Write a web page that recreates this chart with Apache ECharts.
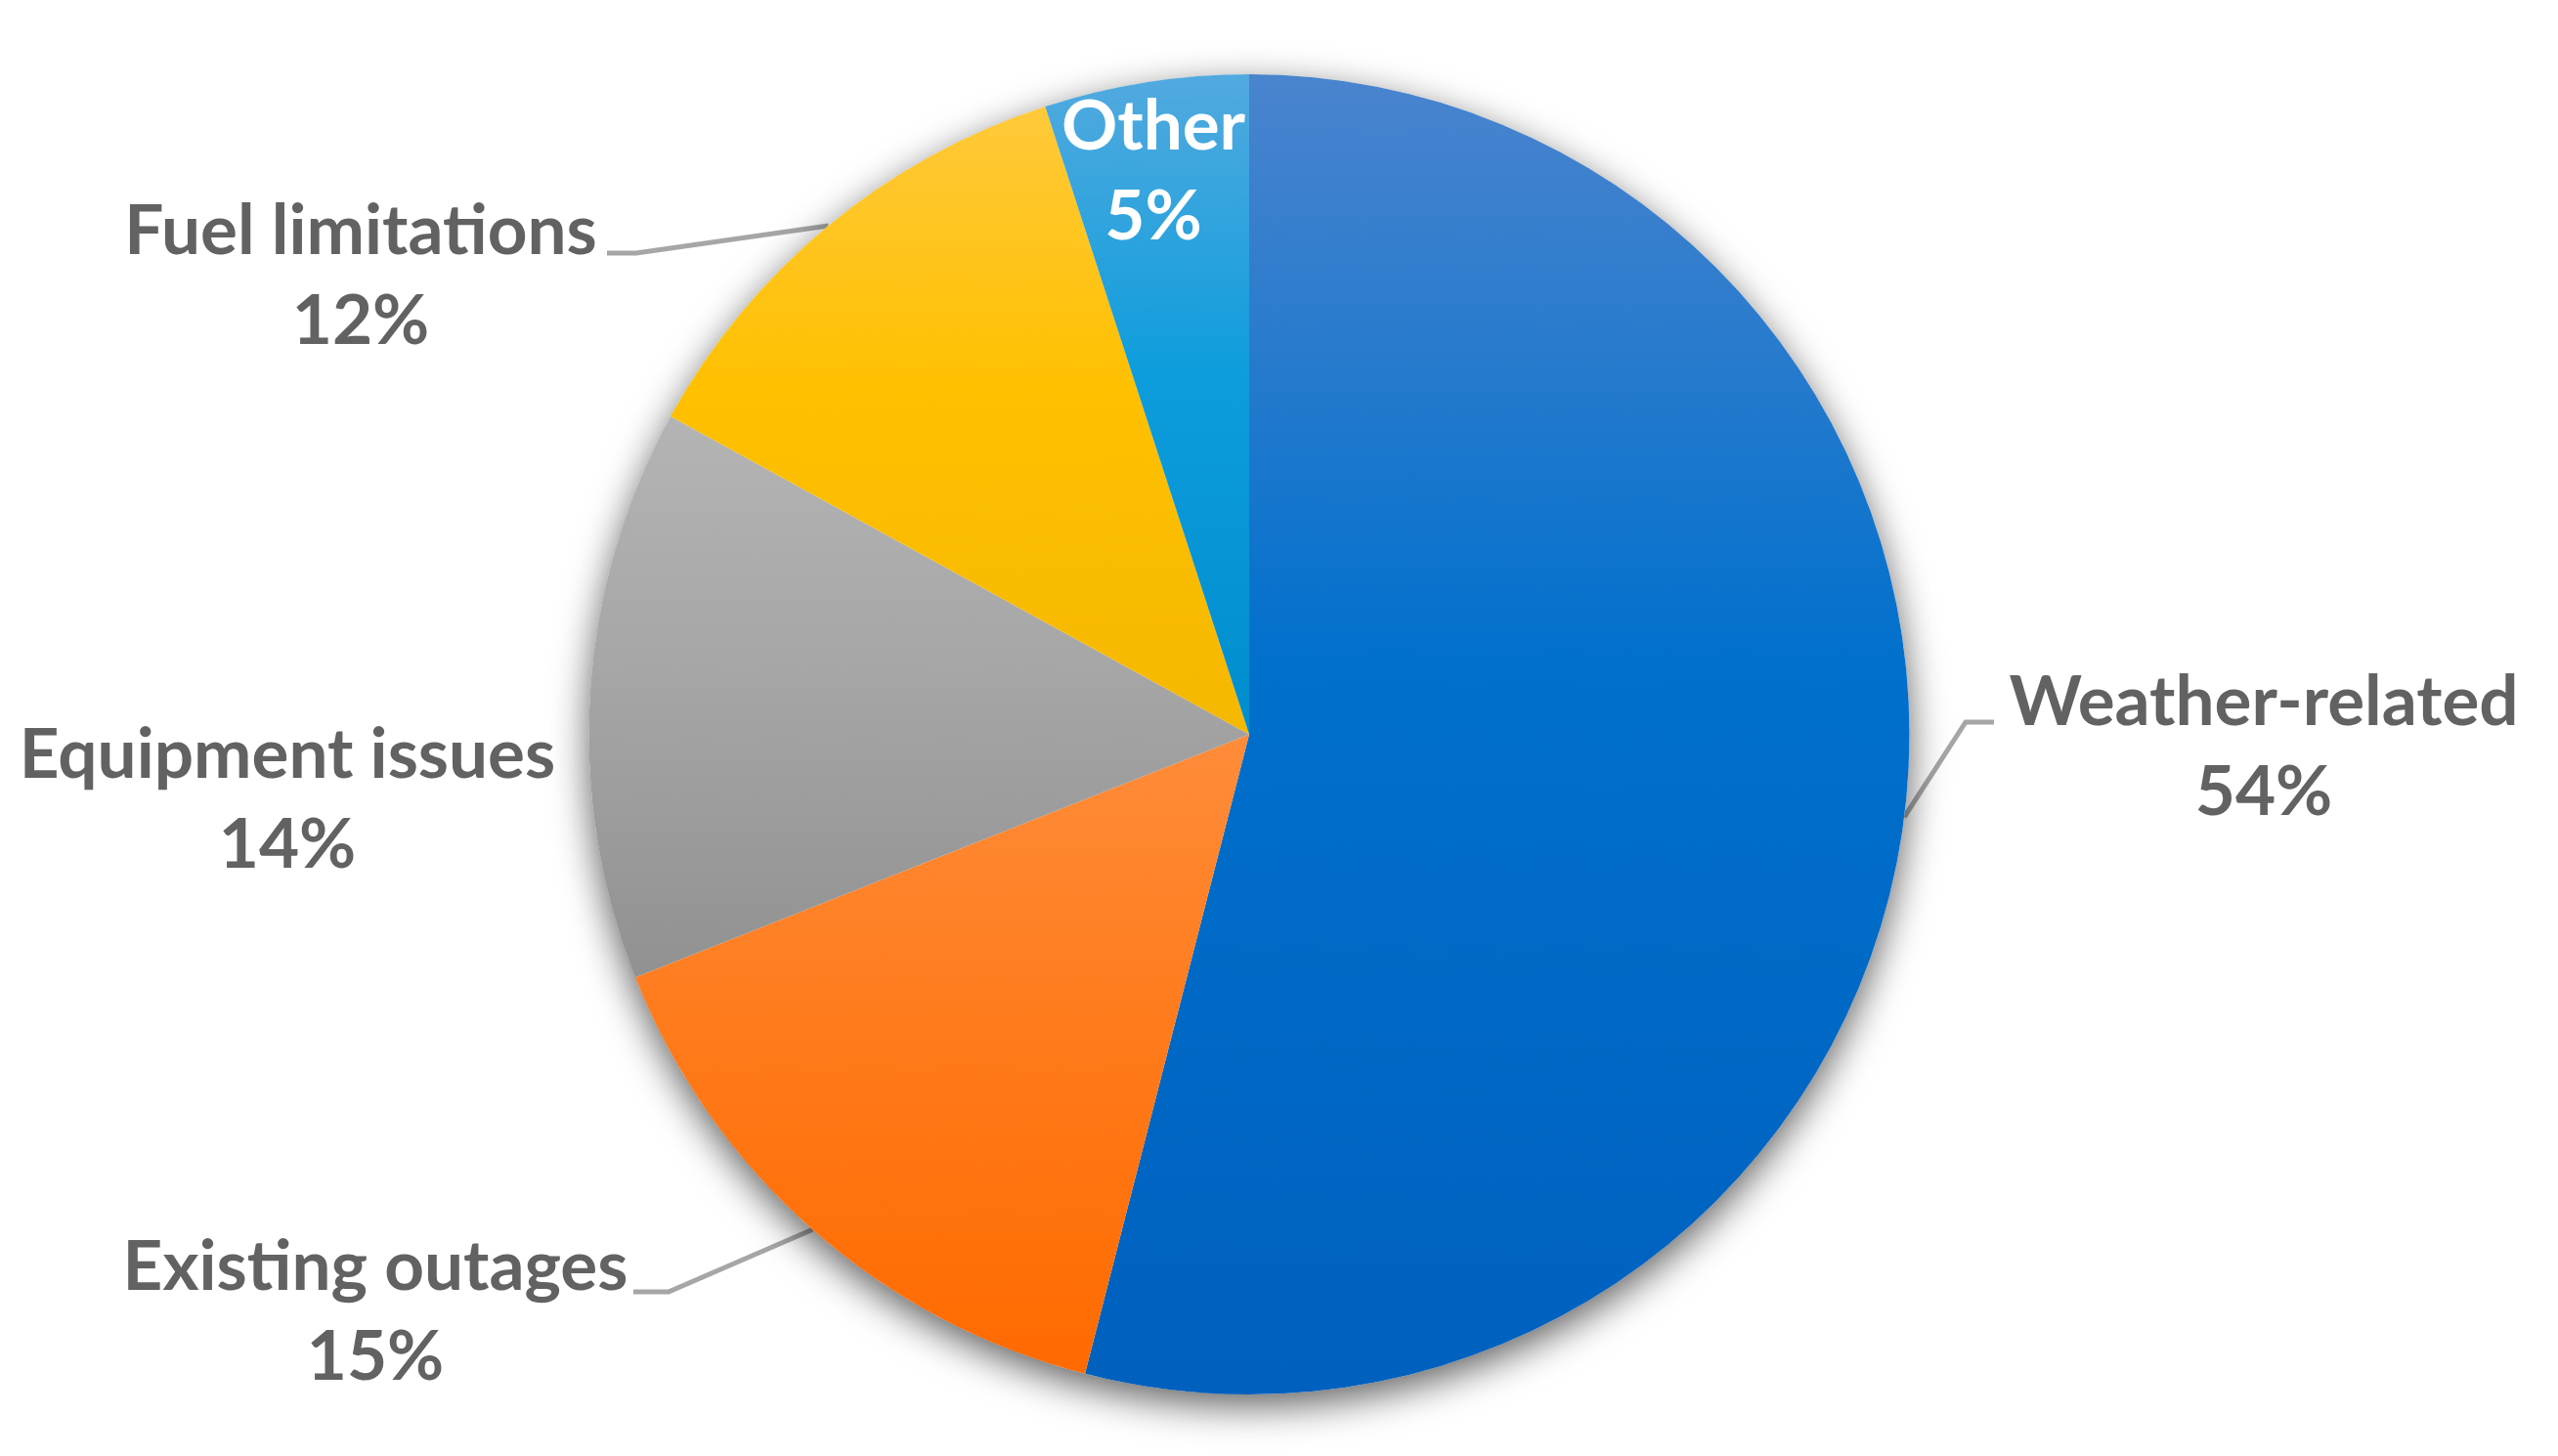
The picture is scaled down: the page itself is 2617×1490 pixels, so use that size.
<!DOCTYPE html>
<html><head><meta charset="utf-8">
<script src="https://cdn.jsdelivr.net/npm/echarts@6/dist/echarts.min.js"></script>
<style>html,body{margin:0;padding:0;background:#fff}#c{width:2617px;height:1490px}</style>
</head><body><div id="c"></div>
<script>
// ---- data ----
const categories = ['Weather-related', 'Existing outages', 'Equipment issues', 'Fuel limitations', 'Other'];
const shares = [54, 15, 14, 12, 5];

// ---- styles ----
const sliceGradients = [
  ['#4A84CE', '#0070CC', '#0060BE'],
  ['#FF8C3A', '#FF7B1C', '#FF6A00'],
  ['#B4B4B4', '#A6A6A6', '#919191'],
  ['#FFC93A', '#FFC000', '#F5B800'],
  ['#52AADF', '#0E9DDC', '#008DCE']
];
const gradStops = [0, 0.45, 1];
// label anchors (block centers) and leader line bends, in px
const labelAnchors = {
  'Weather-related':  { x: 2316, y: 765, line: [[2011, 739], [2040, 739]] },
  'Existing outages': { x: 384,  y: 1343, line: [[684, 1322], [648, 1322]] },
  'Equipment issues': { x: 294,  y: 819 },
  'Fuel limitations': { x: 369,  y: 283, line: [[651, 259], [621, 259]] },
  'Other':            { x: 1180, y: 176 }
};
const pieCenter = [1278, 751.5];
const pieRadius = 675.5;

const grad = (cols) => new echarts.graphic.LinearGradient(0, 0, 0, 1,
  cols.map((c, i) => ({ offset: gradStops[i], color: c })));

const chart = echarts.init(document.getElementById('c'), null, { renderer: 'canvas' });
chart.setOption({
  animation: false,
  backgroundColor: '#ffffff',
  series: [
    {
      type: 'pie', silent: true, center: pieCenter, radius: pieRadius,
      label: { show: false }, labelLine: { show: false },
      itemStyle: { color: '#ffffff', shadowBlur: 38, shadowOffsetY: 12, shadowColor: 'rgba(0,0,0,0.62)' },
      data: [{ value: 1, name: '' }]
    },
    {
      type: 'pie', center: pieCenter, radius: pieRadius, startAngle: 90, clockwise: true,
      avoidLabelOverlap: false,
      itemStyle: { borderWidth: 0 },
      label: {
        show: true, position: 'outside',
        formatter: '{b}\n{c}%',
        fontFamily: 'Lato', fontWeight: 'bold', fontSize: 71, lineHeight: 92,
        color: '#626262', align: 'center'
      },
      labelLine: { show: true, lineStyle: { color: '#A6A6A6', width: 5 } },
      labelLayout: function (p) {
        const a = labelAnchors[categories[p.dataIndex]];
        const out = { x: a.x, y: a.y, align: 'center', verticalAlign: 'middle' };
        if (a.line && p.labelLinePoints) {
          out.labelLinePoints = [p.labelLinePoints[0], a.line[0], a.line[1]];
        }
        return out;
      },
      data: categories.map((n, i) => ({
        name: n, value: shares[i],
        itemStyle: { color: grad(sliceGradients[i]) },
        label: n === 'Other' ? { color: '#ffffff' } : undefined,
        labelLine: (n === 'Other' || n === 'Equipment issues') ? { show: false } : undefined
      }))
    }
  ]
});
</script></body></html>
